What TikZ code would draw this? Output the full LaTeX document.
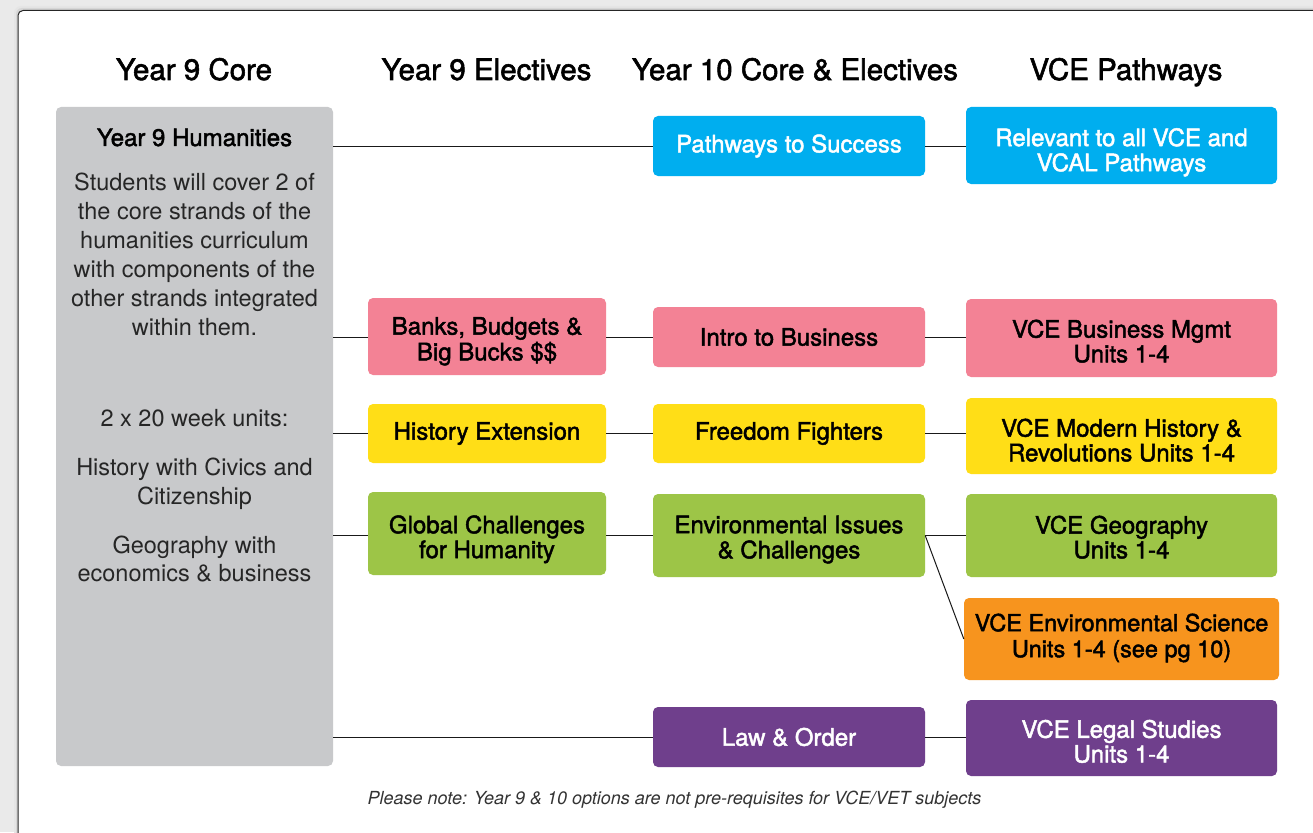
\documentclass[tikz,border=0pt]{standalone}
\usepackage{fontspec}
\setmainfont{TeX Gyre Heros}
\newfontfamily\medfont[FakeBold=1.9]{TeX Gyre Heros}
\definecolor{cblue}{HTML}{00AEEF}
\definecolor{cpink}{HTML}{F38295}
\definecolor{cyellow}{HTML}{FFDE17}
\definecolor{cgreen}{HTML}{9DC547}
\definecolor{corange}{HTML}{F7941E}
\definecolor{cpurple}{HTML}{6F3F8C}
\definecolor{cgray}{HTML}{C8C9CB}
\definecolor{bgc}{HTML}{EAEAEA}
\newcommand\twoln[3][13pt]{\smash{\raisebox{-#1}{\begin{tabular}{@{}c@{}}#2\\#3\end{tabular}}}}
\tikzset{
  box/.style={rounded corners=5pt, inner sep=0pt, align=center, text=black,
    font={\medfont\fontsize{24}{24}\selectfont}},
  wbox/.style={box, text=white},
  head/.style={inner sep=0pt, anchor=base, text=black, font={\medfont\fontsize{29.5}{32}\selectfont}},
  gtxt/.style={inner sep=0pt, anchor=base, text=black!85, font={\fontsize{23.5}{27}\selectfont}},
  link/.style={draw=black!90, line width=1pt}
}
\begin{document}
\begin{tikzpicture}[x=1pt,y=-1pt]
\useasboundingbox (0,0) rectangle (1313,832);
\clip (0,0) rectangle (1313,832);
\fill[bgc] (0,0) rectangle (1313,832);
\fill[black!10, rounded corners=7pt] (14,6) rectangle (1340,860);
\fill[black!16, rounded corners=6pt] (16,8) rectangle (1340,860);
\draw[black!85, fill=white, rounded corners=5pt, line width=1pt] (18,10.5) rectangle (1340,860);

% headings
\node[head] (h1) at (194,80) {Year 9 Core};
\node[head] (h2) at (486.5,80) {Year 9 Electives};
\node[head] (h3) at (795,80) {Year 10 Core \& Electives};
\node[head] (h4) at (1126,80) {VCE Pathways};

% core box
\node[rounded corners=5pt, fill=cgray, minimum width=277pt, minimum height=659pt, inner sep=0pt] (hum) at (194.5,436.5) {};
\node[gtxt, text=black, font={\medfont\fontsize{24}{27}\selectfont}] (t0) at (194.5,146) {Year 9 Humanities};
\node[gtxt] (t1) at (194.5,190) {Students will cover 2 of};
\node[gtxt] (t2) at (194.5,219) {the core strands of the};
\node[gtxt] (t3) at (194.5,248) {humanities curriculum};
\node[gtxt] (t4) at (194.5,277) {with components of the};
\node[gtxt] (t5) at (194.5,306) {other strands integrated};
\node[gtxt] (t6) at (194.5,335) {within them.};
\node[gtxt] (t7) at (194.5,426) {2 x 20 week units:};
\node[gtxt] (t8) at (194.5,475) {History with Civics and};
\node[gtxt] (t9) at (194.5,504) {Citizenship};
\node[gtxt] (t10) at (194.5,553) {Geography with};
\node[gtxt] (t11) at (194.5,581) {economics \& business};

% boxes
\node[wbox, fill=cblue, minimum width=272pt, minimum height=60pt] (pts) at (789,146) {Pathways to Success};
\node[wbox, fill=cblue, minimum width=311pt, minimum height=77pt] (rel) at (1121.5,145.5) {\twoln[14pt]{Relevant to all VCE and}{VCAL Pathways}};
\node[box, fill=cpink, minimum width=238pt, minimum height=77pt] (bbb) at (487,336.5) {\twoln[12pt]{Banks, Budgets \&}{Big Bucks \$\$}};
\node[box, fill=cpink, minimum width=272pt, minimum height=60pt] (itb) at (789,337) {Intro to Business};
\node[box, fill=cpink, minimum width=311pt, minimum height=78pt] (bus) at (1121.5,338) {\twoln[12.8pt]{VCE Business Mgmt}{Units 1-4}};
\node[box, fill=cyellow, minimum width=238pt, minimum height=59pt] (hex) at (487,433.5) {History Extension};
\node[box, fill=cyellow, minimum width=272pt, minimum height=59pt] (ff) at (789,433.5) {Freedom Fighters};
\node[box, fill=cyellow, minimum width=311pt, minimum height=76pt] (mh) at (1121.5,436) {\twoln[13.8pt]{VCE Modern History \&}{Revolutions Units 1-4}};
\node[box, fill=cgreen, minimum width=238pt, minimum height=83pt] (gch) at (487,533.5) {\twoln{Global Challenges}{for Humanity}};
\node[box, fill=cgreen, minimum width=272pt, minimum height=83pt] (eic) at (789,535.5) {\twoln[11.3pt]{Environmental Issues}{\& Challenges}};
\node[box, fill=cgreen, minimum width=311pt, minimum height=83pt] (geo) at (1121.5,535.5) {\twoln[11.3pt]{VCE Geography}{Units 1-4}};
\node[box, fill=corange, minimum width=315pt, minimum height=82pt, font={\medfont\fontsize{23.5}{26}\selectfont}] (evs) at (1121.5,639) {\twoln[6.2pt]{VCE Environmental Science}{Units 1-4 (see pg 10)}};
\node[wbox, fill=cpurple, minimum width=272pt, minimum height=60pt] (lo) at (789,737) {Law \& Order};
\node[wbox, fill=cpurple, minimum width=311pt, minimum height=76pt] (ls) at (1121.5,738) {\twoln{VCE Legal Studies}{Units 1-4}};

% connectors
\draw[link] (hum.east |- pts.west) -- (pts.west);
\draw[link] (pts.east) -- (rel.west |- pts.east);
\draw[link] (hum.east |- itb.west) -- (bbb.west |- itb.west);
\draw[link] (bbb.east |- itb.west) -- (itb.west);
\draw[link] (itb.east) -- (bus.west |- itb.east);
\draw[link] (hum.east |- hex.west) -- (hex.west);
\draw[link] (hex.east) -- (ff.west);
\draw[link] (ff.east) -- (mh.west |- ff.east);
\draw[link] (hum.east |- eic.west) -- (gch.west |- eic.west);
\draw[link] (gch.east |- eic.west) -- (eic.west);
\draw[link] (eic.east) -- (geo.west);
\draw[link] (eic.east) -- (evs.west);
\draw[link] (hum.east |- lo.west) -- (lo.west);
\draw[link] (lo.east) -- (ls.west |- lo.east);

% note
\node[inner sep=0pt, anchor=base, text=black!80, font={\itshape\fontsize{18}{19}\selectfont}] (note) at (674.5,804) {Please note: Year 9 \& 10 options are not pre-requisites for VCE/VET subjects};
\end{tikzpicture}
\end{document}
